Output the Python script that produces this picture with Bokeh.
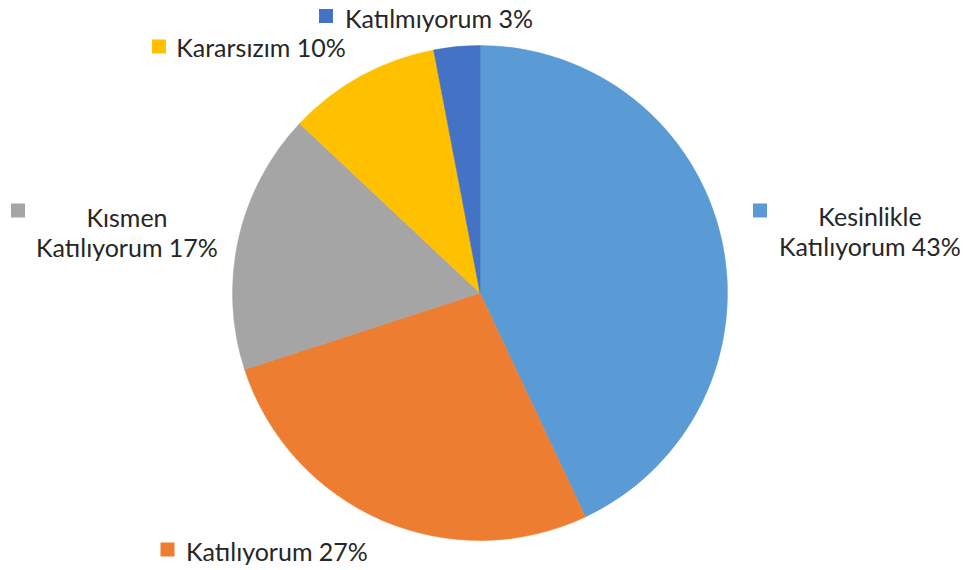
import math
from bokeh.plotting import figure
from bokeh.models import Range1d, ColumnDataSource
from bokeh.core.properties import value
from bokeh.embed import file_html
from bokeh.resources import INLINE

# ---- data ----
categories = ["Kesinlikle Katılıyorum", "Katılıyorum", "Kısmen Katılıyorum", "Kararsızım", "Katılmıyorum"]
label_texts = ["Kesinlikle\nKatılıyorum 43%", "Katılıyorum 27%", "Kısmen\nKatılıyorum 17%", "Kararsızım 10%", "Katılmıyorum 3%"]
percents = [43, 27, 17, 10, 3]
colors = ["#5B9BD5", "#ED7D31", "#A5A5A5", "#FFC000", "#4472C4"]

# ---- layout (page pixel coordinates) ----
W, H = 968, 570
PAGE_H = 570
def fy(y):
    return PAGE_H - y

cx, cy, r = 479.5, 292.5, 247.5
marker_pos = [(759.5, 210), (167, 549), (17.5, 210), (158.5, 46), (325.5, 15.5)]
text_pos = [(869.5, 230), (276.5, 550), (126.5, 231), (260.5, 46.5), (438.5, 17)]

total = float(sum(percents))
starts, ends = [], []
cum = 0.0
for v in percents:
    a_end = math.pi / 2 - 2 * math.pi * cum / total
    cum += v
    a_start = math.pi / 2 - 2 * math.pi * cum / total
    starts.append(a_start)
    ends.append(a_end)

src = ColumnDataSource(dict(cat=categories, start=starts, end=ends, color=colors))

p = figure(width=W, height=H, output_backend="svg", toolbar_location=None,
           x_range=Range1d(0, W), y_range=Range1d(fy(H), fy(0)),
           min_border=0, outline_line_color=None)
p.axis.visible = False
p.grid.visible = False
p.background_fill_color = "white"
p.border_fill_color = "white"

p.wedge(x=cx, y=fy(cy), radius=r, start_angle="start", end_angle="end",
        fill_color="color", line_color="color", line_width=0.5, source=src)

msrc = ColumnDataSource(dict(x=[m[0] for m in marker_pos], y=[fy(m[1]) for m in marker_pos], color=colors))
p.scatter(x="x", y="y", marker="square", size=14, fill_color="color", line_color=None, source=msrc)

tsrc = ColumnDataSource(dict(x=[t[0] for t in text_pos], y=[fy(t[1]) for t in text_pos], text=label_texts))
p.text(x="x", y="y", text="text", source=tsrc, text_font=value("Lato"), text_font_size="25px",
       text_color="#262626", text_align="center", text_baseline="middle", text_line_height=1.0)

open("out.html", "w").write(file_html(p, INLINE))
